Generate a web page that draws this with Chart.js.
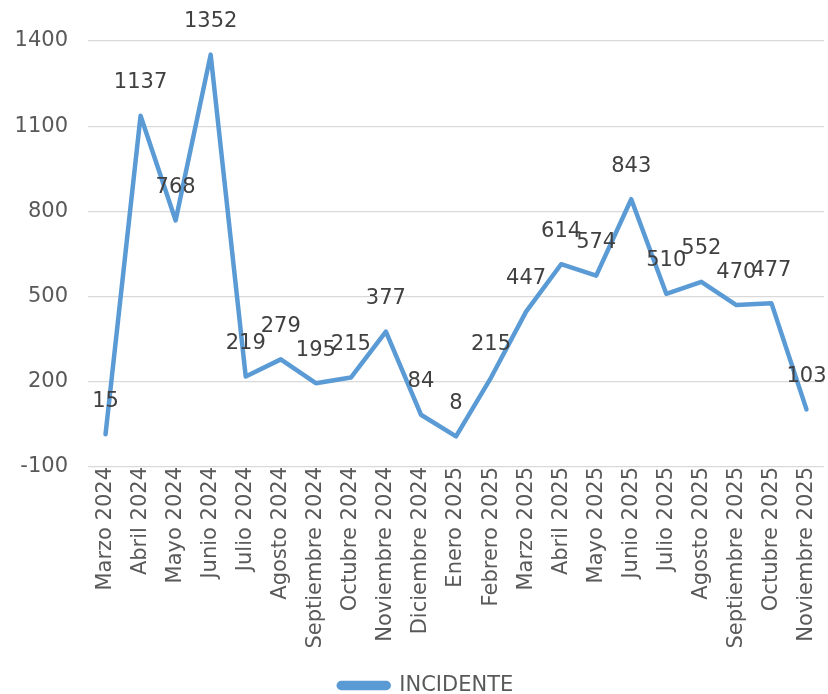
<!DOCTYPE html>
<html>
<head>
<meta charset="utf-8">
<script src="https://cdn.jsdelivr.net/npm/chart.js@4/dist/chart.umd.min.js"></script>
<style>
  html, body { margin: 0; padding: 0; background: #fff; }
  #wrap { width: 828px; height: 694px; }
</style>
</head>
<body>
<div id="wrap"><canvas id="grafico" width="828" height="694"></canvas></div>
<script>
// Meses del periodo
const meses = [
  'Marzo 2024', 'Abril 2024', 'Mayo 2024', 'Junio 2024', 'Julio 2024',
  'Agosto 2024', 'Septiembre 2024', 'Octubre 2024', 'Noviembre 2024',
  'Diciembre 2024', 'Enero 2025', 'Febrero 2025', 'Marzo 2025', 'Abril 2025',
  'Mayo 2025', 'Junio 2025', 'Julio 2025', 'Agosto 2025', 'Septiembre 2025',
  'Octubre 2025', 'Noviembre 2025'
];
// Cantidad de incidentes por mes
const incidentes = [15, 1137, 768, 1352, 219, 279, 195, 215, 377, 84, 8, 215,
  447, 614, 574, 843, 510, 552, 470, 477, 103];
// Marcas del eje vertical
const ejeMin = -100;
const ejeMax = 1400;
const ejePaso = 300;

const fuente = "'DejaVu Sans', sans-serif";
const azul = '#5b9bd5';

// Etiquetas de valor encima de cada punto
const etiquetasValor = {
  id: 'etiquetasValor',
  afterDatasetsDraw(chart) {
    const ctx = chart.ctx;
    const meta = chart.getDatasetMeta(0);
    ctx.save();
    ctx.font = '21px ' + fuente;
    ctx.fillStyle = '#404040';
    ctx.textAlign = 'center';
    ctx.textBaseline = 'middle';
    meta.data.forEach((p, i) => {
      ctx.fillText(String(incidentes[i]), p.x, p.y - 33);
    });
    ctx.restore();
  }
};

// Corre la leyenda un poco a la derecha
const moverLeyenda = {
  id: 'moverLeyenda',
  afterLayout(chart) {
    chart.legend.left += 14;
    chart.legend.right += 14;
  }
};

const ctx = document.getElementById('grafico').getContext('2d');
const grafico = new Chart(ctx, {
  type: 'line',
  data: {
    labels: meses,
    datasets: [{
      label: 'INCIDENTE',
      data: incidentes,
      borderColor: azul,
      backgroundColor: azul,
      borderWidth: 4.5,
      tension: 0,
      pointRadius: 0,
      pointHoverRadius: 0,
      borderJoinStyle: 'round',
      borderCapStyle: 'round'
    }]
  },
  options: {
    responsive: false,
    animation: false,
    layout: { padding: { top: 41, right: 4, left: 0, bottom: -12 } },
    plugins: {
      tooltip: { enabled: false },
      legend: {
        position: 'bottom',
        labels: {
          color: '#595959',
          font: { family: fuente, size: 21 },
          boxWidth: 50,
          boxHeight: 5,
          useBorderRadius: true,
          borderRadius: 2.5,
          padding: 2
        }
      }
    },
    scales: {
      x: {
        offset: true,
        grid: { display: false },
        border: { display: false },
        ticks: {
          color: '#595959',
          font: { family: fuente, size: 21 },
          maxRotation: 90,
          minRotation: 90,
          autoSkip: false,
          padding: -8
        },
        afterFit(s) { s.height = 206; }
      },
      y: {
        min: ejeMin,
        max: ejeMax,
        grid: { color: '#d9d9d9', lineWidth: 1.3, drawTicks: false },
        border: { display: false },
        ticks: {
          stepSize: ejePaso,
          color: '#595959',
          font: { family: fuente, size: 21 },
          padding: 20,
          callback: v => String(v)
        },
        afterFit(s) { s.width = 88; }
      }
    }
  },
  plugins: [etiquetasValor, moverLeyenda]
});
</script>
</body>
</html>
